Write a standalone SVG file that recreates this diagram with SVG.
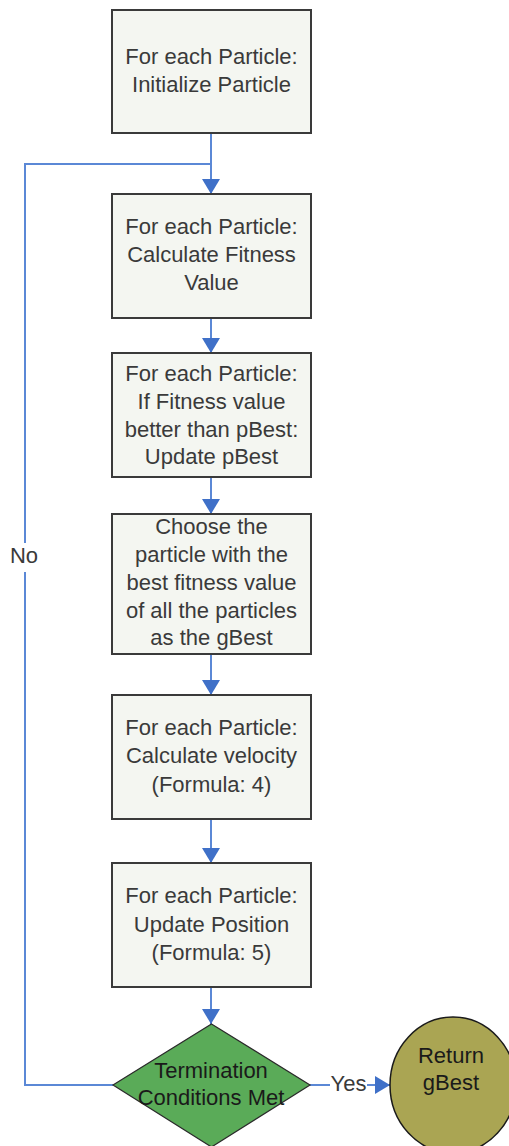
<svg xmlns="http://www.w3.org/2000/svg" width="509" height="1146" viewBox="0 0 509 1146">
  <style>
    .box { fill: #f4f6f1; stroke: #3a3a3a; stroke-width: 2; }
    .lbl { font-family: "Liberation Sans", Arial, sans-serif; font-size: 22px; fill: #3a3a3a; text-anchor: middle; }
    .dark { fill: #1a1a1a; }
    .edge { fill: none; stroke: #5b88d6; stroke-width: 2; }
  </style>
  <defs>
    <marker id="arrow" viewBox="0 0 15 18" refX="15" refY="9" markerWidth="15" markerHeight="18" markerUnits="userSpaceOnUse" orient="auto">
      <path d="M0,0 L15,9 L0,18 Z" fill="#3f70c8"/>
    </marker>
  </defs>

  <g id="connectors">
    <line class="edge" x1="211" y1="133" x2="211" y2="194" marker-end="url(#arrow)"/>
    <line class="edge" x1="211" y1="318" x2="211" y2="353" marker-end="url(#arrow)"/>
    <line class="edge" x1="211" y1="477" x2="211" y2="514" marker-end="url(#arrow)"/>
    <line class="edge" x1="211" y1="654" x2="211" y2="695" marker-end="url(#arrow)"/>
    <line class="edge" x1="211" y1="819" x2="211" y2="863" marker-end="url(#arrow)"/>
    <line class="edge" x1="211" y1="987" x2="211" y2="1024" marker-end="url(#arrow)"/>
    <!-- "No" loop back to the fitness step -->
    <polyline class="edge" points="113,1085 25,1085 25,572"/>
    <polyline class="edge" points="25,543 25,164 211,164"/>
    <text class="lbl" x="24" y="563">No</text>
    <!-- "Yes" branch to the result -->
    <line class="edge" x1="310" y1="1085" x2="330" y2="1085"/>
    <line class="edge" x1="367" y1="1085" x2="390" y2="1085" marker-end="url(#arrow)"/>
    <text class="lbl" x="348.5" y="1091">Yes</text>
  </g>

  <g id="init">
    <rect class="box" x="112" y="10" width="199" height="123"/>
    <text class="lbl" x="211.5" y="64">For each Particle:</text>
    <text class="lbl" x="211.5" y="92">Initialize Particle</text>
  </g>

  <g id="fitness">
    <rect class="box" x="112" y="194" width="199" height="124"/>
    <text class="lbl" x="211.5" y="234">For each Particle:</text>
    <text class="lbl" x="211.5" y="262">Calculate Fitness</text>
    <text class="lbl" x="211.5" y="290">Value</text>
  </g>

  <g id="pbest">
    <rect class="box" x="112" y="353" width="199" height="124"/>
    <text class="lbl" x="211.5" y="381">For each Particle:</text>
    <text class="lbl" x="211.5" y="409">If Fitness value</text>
    <text class="lbl" x="211.5" y="437">better than pBest:</text>
    <text class="lbl" x="211.5" y="464">Update pBest</text>
  </g>

  <g id="gbest">
    <rect class="box" x="112" y="514" width="199" height="140"/>
    <text class="lbl" x="211.5" y="534">Choose the</text>
    <text class="lbl" x="211.5" y="562">particle with the</text>
    <text class="lbl" x="211.5" y="590">best fitness value</text>
    <text class="lbl" x="211.5" y="618">of all the particles</text>
    <text class="lbl" x="211.5" y="645">as the gBest</text>
  </g>

  <g id="velocity">
    <rect class="box" x="112" y="695" width="199" height="124"/>
    <text class="lbl" x="211.5" y="735">For each Particle:</text>
    <text class="lbl" x="211.5" y="763">Calculate velocity</text>
    <text class="lbl" x="211.5" y="792">(Formula: 4)</text>
  </g>

  <g id="position">
    <rect class="box" x="112" y="863" width="199" height="124"/>
    <text class="lbl" x="211.5" y="903">For each Particle:</text>
    <text class="lbl" x="211.5" y="932">Update Position</text>
    <text class="lbl" x="211.5" y="960">(Formula: 5)</text>
  </g>

  <g id="termination">
    <polygon points="211.5,1024 310,1085 211.5,1147 113,1085" fill="#5aab58" stroke="#2a2a2a" stroke-width="1.2"/>
    <text class="lbl dark" x="211" y="1078">Termination</text>
    <text class="lbl dark" x="211" y="1105">Conditions Met</text>
  </g>

  <g id="result">
    <ellipse cx="453" cy="1085" rx="63" ry="68" fill="#aaa553" stroke="#1a1a1a" stroke-width="1.5"/>
    <text class="lbl dark" x="451" y="1063">Return</text>
    <text class="lbl dark" x="451" y="1090">gBest</text>
  </g>
</svg>
